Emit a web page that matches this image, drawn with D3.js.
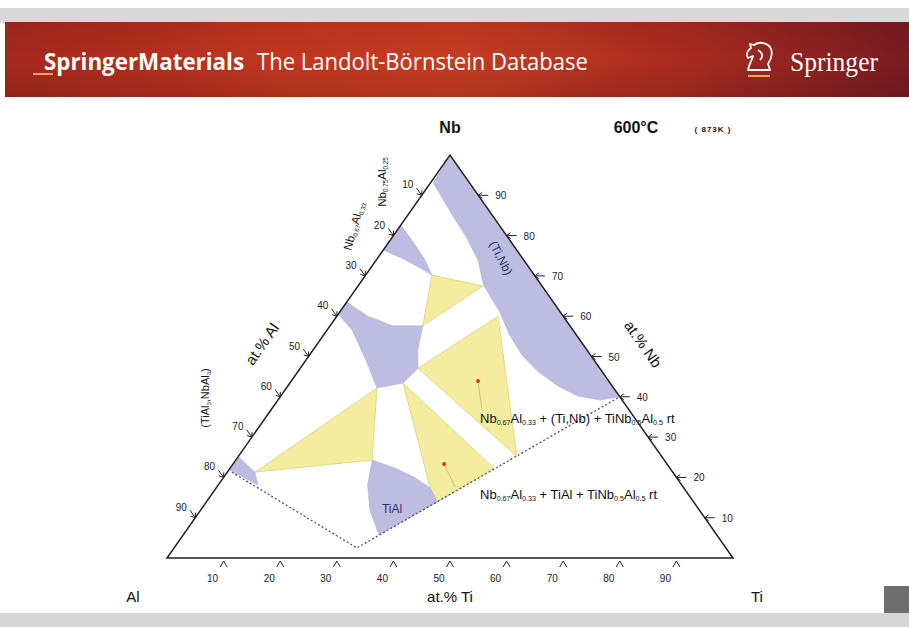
<!DOCTYPE html>
<html><head><meta charset="utf-8">
<script src="https://cdn.jsdelivr.net/npm/d3@7"></script>
<style>body{margin:0;background:#fff;} svg{display:block;}</style>
</head><body>
<svg id="c" width="909" height="627"></svg>
<script>
// ---------- DATA (compositions as [at.% Ti, at.% Nb]; Al = 100 - Ti - Nb) ----------
const tickValues = [10,20,30,40,50,60,70,80,90];
const cornerLabels = {Al:"Al", Ti:"Ti", Nb:"Nb"};
const axisTitles = {Ti:"at.% Ti", Al:"at.% Al", Nb:"at.% Nb"};
const tiNbBand = [[0,100],[60,40],[56.9,39.2],[52.5,40.2],[47.7,42.7],[42.5,46.2],[37.5,50.4],[32.9,55.3],[28.3,61.0],[22.1,67.7],[18.0,73.9],[13.0,79.7],[7.1,85.9],[0.5,93.1]];
const nb3AlRegion = [[0,82.6],[3.8,78.9],[8.2,74.4],[11.7,70.2],[8.7,72.0],[4.3,74.4],[0,76.4]];
const nb2AlRegion = [[0,63.5],[5.5,60.0],[11.1,57.6],[16.4,57.6],[18.5,51.6],[20.8,47.1],[20.0,43.4],[16.0,42.2],[10.6,49.1],[4.4,56.6],[0,60.5]];
const tiAlRegion = [[24.1,24.3],[29.2,22.3],[33.9,19.9],[37.8,17.4],[40.8,13.9],[34.6,5.7],[29.9,11.9],[26.4,18.1]];
const al3Strip = [[0,25.2],[4.9,21.3],[7.0,18.1],[0,21.9]];
const yellowA = [[11.7,70.2],[22.1,67.5],[16.4,57.6]];
const yellowB = [[28.5,60.0],[20.8,47.1],[49.2,25.2]];
const yellowC = [[20.0,43.4],[46.6,22.3],[40.8,13.9],[37.8,17.4]];
const yellowD = [[4.9,21.3],[16.0,42.2],[24.1,24.3]];
const dashedLimit = [[0.8,21.3],[32.3,2.5],[60,40]];
const redDots = [[33.0,43.9],[37.3,23.3]];
const dotLeaders = [[37.0,37.2],[42.1,17.6]];

// ---------- SETUP ----------
const W=909,H=627;
const svg=d3.select("#c");
const defs=svg.append("defs");
const hg=defs.append("linearGradient").attr("id","hdr").attr("x1",0).attr("x2",1).attr("y1",0).attr("y2",0);
[[0,"#a5281d"],[0.3,"#c1361f"],[0.5,"#c73c22"],[0.75,"#aa2b20"],[1,"#7a1b22"]].forEach(([o,c])=>hg.append("stop").attr("offset",o).attr("stop-color",c));
const vg=defs.append("linearGradient").attr("id","hdrv").attr("x1",0).attr("x2",0).attr("y1",0).attr("y2",1);
[[0,"rgba(0,0,0,0.08)"],[0.5,"rgba(0,0,0,0)"],[1,"rgba(0,0,0,0.12)"]].forEach(([o,c])=>vg.append("stop").attr("offset",o).attr("stop-color",c));

svg.append("rect").attr("width",W).attr("height",H).attr("fill","#fff");
svg.append("rect").attr("x",0).attr("y",8).attr("width",W).attr("height",15).attr("fill","#d9d9d9");
svg.append("rect").attr("x",5).attr("y",22).attr("width",W-5).attr("height",75).attr("fill","url(#hdr)");
svg.append("rect").attr("x",5).attr("y",22).attr("width",W-5).attr("height",75).attr("fill","url(#hdrv)");
svg.append("rect").attr("x",0).attr("y",613).attr("width",W).attr("height",14).attr("fill","#d6d6d6");
svg.append("rect").attr("x",884).attr("y",586).attr("width",25).attr("height",27).attr("fill","#6e6e6e");

// header texts
svg.append("text").attr("x",44).attr("y",70).attr("font-family","'Open Sans','Liberation Sans',sans-serif").attr("font-weight","bold").attr("font-size",24).attr("fill","#fff").attr("textLength",200).attr("lengthAdjust","spacingAndGlyphs").text("SpringerMaterials");
svg.append("text").attr("x",257).attr("y",70).attr("font-family","'Open Sans','Liberation Sans',sans-serif").attr("font-size",24).attr("fill","#fff").attr("textLength",331).attr("lengthAdjust","spacingAndGlyphs").text("The Landolt-Börnstein Database");
svg.append("rect").attr("x",33).attr("y",73).attr("width",20).attr("height",2).attr("fill","#f0a050");
svg.append("text").attr("x",790).attr("y",71).attr("font-family","'Liberation Serif','DejaVu Serif',serif").attr("font-size",27).attr("fill","#fff").attr("textLength",88).attr("lengthAdjust","spacingAndGlyphs").text("Springer");
// knight logo
svg.append("path").attr("d","M748,70 L770,70 L768,64 C772,58 774,50 768,45 C764,42 758,42 754,45 L750,44 L751,48 C747,51 746,55 748,58 L753,56 C752,60 749,64 748,70 Z M758,50 C762,52 764,56 760,60")
  .attr("fill","none").attr("stroke","#fff").attr("stroke-width",1.8).attr("stroke-linejoin","round");
svg.append("rect").attr("x",748).attr("y",75).attr("width",22).attr("height",2).attr("fill","#f0a050");

// ---------- TERNARY SCALES ----------
const xs=d3.scaleLinear().domain([0,100]).range([167,733]);
const ys=d3.scaleLinear().domain([0,100]).range([558,155]);
const P=([t,n])=>[xs(t+n/2),ys(n)];
const poly=d3.line().x(d=>P(d)[0]).y(d=>P(d)[1]).curve(d3.curveLinearClosed);
const open=d3.line().x(d=>P(d)[0]).y(d=>P(d)[1]);

const LAV="#bcbde0", YEL="#f4ec9e";
const g=svg.append("g");
[yellowA,yellowB,yellowC,yellowD].forEach(p=>g.append("path").attr("d",poly(p)).attr("fill",YEL).attr("stroke","#ddd27c").attr("stroke-width",0.8));
[tiNbBand,nb3AlRegion,nb2AlRegion,tiAlRegion,al3Strip].forEach(p=>g.append("path").attr("d",poly(p)).attr("fill",LAV).attr("stroke","#aeb0d8").attr("stroke-width",0.6));

// dashed boundary of investigated region
g.append("path").attr("d",open(dashedLimit)).attr("fill","none").attr("stroke","#555").attr("stroke-width",1.3).attr("stroke-dasharray","2,2.2");

// red dots & leaders
redDots.forEach((d,i)=>{
  g.append("path").attr("d",open([d,dotLeaders[i]])).attr("stroke","#e0a060").attr("stroke-width",0.7).attr("fill","none");
  const [x,y]=P(d);
  g.append("circle").attr("cx",x).attr("cy",y).attr("r",2).attr("fill","#d23a1e");
});

// triangle
g.append("path").attr("d",poly([[0,0],[100,0],[0,100]])).attr("fill","none").attr("stroke","#222").attr("stroke-width",1.5).attr("stroke-linejoin","miter");

// ticks
const FONT="'Liberation Sans',Arial,sans-serif";
const tk=svg.append("g").attr("stroke","#222").attr("stroke-width",1).attr("fill","none");
const tl=svg.append("g").attr("font-family",FONT).attr("font-size",10).attr("fill","#222");
const L=Math.hypot(283,403), ux=283/L, uy=403/L;
tickValues.forEach(v=>{
  // base (Ti)
  const [bx,by]=P([v,0]);
  tk.append("path").attr("d",`M${bx-3.5},${by+9}L${bx},${by+3}L${bx+3.5},${by+9}`);
  tl.append("text").attr("x",bx-11).attr("y",by+24).attr("text-anchor","middle").text(v);
  // right (Nb)
  const [rx,ry]=P([100-v,v]);
  tk.append("path").attr("d",`M${rx+10},${ry}L${rx},${ry}M${rx+4},${ry-3}L${rx},${ry}L${rx+4},${ry+3}`);
  tl.append("text").attr("x",rx+17).attr("y",ry+4).text(v);
  // left (Al)
  const [lx,ly]=P([0,100-v]);
  const bx2=-ux, by2=-uy, px=uy, py=-ux;
  tk.append("path").attr("d",`M${lx+bx2*9},${ly+by2*9}L${lx},${ly}M${lx+bx2*4+px*3},${ly+by2*4+py*3}L${lx},${ly}L${lx+bx2*4-px*3},${ly+by2*4-py*3}`);
  tl.append("text").attr("x",lx-14).attr("y",ly-7).attr("text-anchor","middle").text(v);
});

// corner labels & titles
const T=svg.append("g").attr("font-family",FONT).attr("fill","#111");
T.append("text").attr("x",133).attr("y",602).attr("font-size",15).attr("text-anchor","middle").text(cornerLabels.Al);
T.append("text").attr("x",757).attr("y",602).attr("font-size",15).attr("text-anchor","middle").text(cornerLabels.Ti);
T.append("text").attr("x",450).attr("y",133).attr("font-size",16).attr("font-weight","bold").attr("text-anchor","middle").text(cornerLabels.Nb);
T.append("text").attr("x",450).attr("y",602).attr("font-size",15).attr("text-anchor","middle").text(axisTitles.Ti);
T.append("text").attr("transform","translate(262,344) rotate(-55)").attr("font-size",15).attr("text-anchor","middle").attr("dy","0.35em").text(axisTitles.Al);
T.append("text").attr("transform","translate(643,344) rotate(55)").attr("font-size",15).attr("text-anchor","middle").attr("dy","0.35em").text(axisTitles.Nb);
T.append("text").attr("x",636).attr("y",133).attr("font-size",16).attr("font-weight","bold").attr("text-anchor","middle").text("600°C");
T.append("text").attr("x",713).attr("y",132).attr("font-size",8).attr("font-weight","bold").attr("letter-spacing",1).attr("text-anchor","middle").text("( 873K )");

// subscript-aware label helper
function sub(sel, parts){
  parts.forEach(([s,isSub])=>{
    sel.append("tspan").attr("font-size",isSub?"0.55em":null).attr("baseline-shift",isSub?"-25%":null).text(s);
  });
  return sel;
}
sub(T.append("text").attr("transform","translate(382,182) rotate(-90)").attr("font-size",11.5).attr("text-anchor","middle").attr("dy","0.35em"),
  [["Nb",0],["0.75",1],["Al",0],["0.25",1]]);
sub(T.append("text").attr("transform","translate(354,226) rotate(-74)").attr("font-size",11.5).attr("text-anchor","middle").attr("dy","0.35em"),
  [["Nb",0],["0.67",1],["Al",0],["0.33",1]]);
sub(T.append("text").attr("transform","translate(205,398) rotate(-90)").attr("font-size",11).attr("text-anchor","middle").attr("dy","0.35em"),
  [["(TiAl",0],["3",1],[",NbAl",0],["3",1],[")",0]]);
T.append("text").attr("transform","translate(501,258) rotate(63)").attr("font-size",12).attr("fill","#2c2c6e").attr("text-anchor","middle").attr("dy","0.35em").text("(Ti,Nb)");
T.append("text").attr("x",392).attr("y",513).attr("font-size",12).attr("fill","#2c2c6e").attr("text-anchor","middle").text("TiAl");
sub(T.append("text").attr("x",480).attr("y",423).attr("font-size",13),
  [["Nb",0],["0.67",1],["Al",0],["0.33",1],[" + (Ti,Nb) + TiNb",0],["0.5",1],["Al",0],["0.5",1],[" rt",0]]);
sub(T.append("text").attr("x",480).attr("y",499).attr("font-size",13),
  [["Nb",0],["0.67",1],["Al",0],["0.33",1],[" + TiAl + TiNb",0],["0.5",1],["Al",0],["0.5",1],[" rt",0]]);
</script>
</body></html>
